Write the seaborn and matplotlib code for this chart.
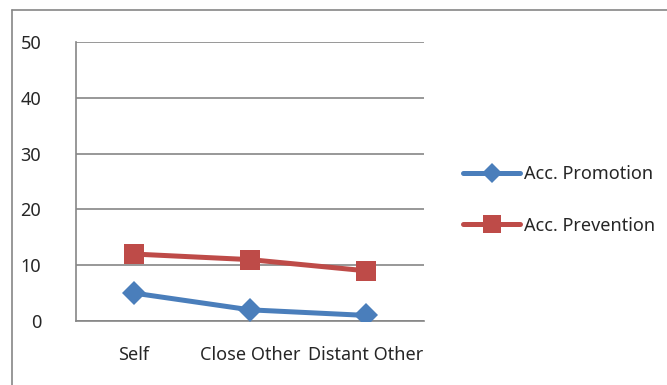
import matplotlib
matplotlib.use("Agg")
import matplotlib.pyplot as plt
from matplotlib.lines import Line2D
import seaborn as sns
import pandas as pd

# Accuracy by target of judgement
targets = ["Self", "Close Other", "Distant Other"]
promotion = [5, 2, 1]
prevention = [12, 11, 9]
series_names = ["Acc. Promotion", "Acc. Prevention"]
y_ticks = [0, 10, 20, 30, 40, 50]

BLUE = "#4A7EBB"
RED = "#BE4B48"
GRID = "#868686"
TEXT = "#262626"
FS = 13

sns.set_theme(style="white")
plt.rcParams["font.family"] = ["Noto Sans", "DejaVu Sans"]

df = pd.DataFrame({
    "pos": list(range(len(targets))) * 2,
    "value": promotion + prevention,
    "series": [series_names[0]] * len(targets) + [series_names[1]] * len(targets),
})

W, H = 667, 385
fig = plt.figure(figsize=(W / 100, H / 100), dpi=100)

# Outer chart frame: only the top and left edges fall inside the image
fig.lines.append(Line2D([12 / W, 1.0], [1 - 10 / H, 1 - 10 / H],
                        transform=fig.transFigure, color=GRID, linewidth=1.2))
fig.lines.append(Line2D([12 / W, 12 / W], [0.0, 1 - 10 / H],
                        transform=fig.transFigure, color=GRID, linewidth=1.2))

ax = fig.add_axes([76 / W, 1 - 321 / H, (424 - 76) / W, (321 - 42) / H])

sns.lineplot(data=df, x="pos", y="value", hue="series", style="series",
             palette={series_names[0]: BLUE, series_names[1]: RED},
             markers={series_names[0]: "D", series_names[1]: "s"},
             dashes=False, linewidth=3.6, ax=ax, legend=False,
             markeredgewidth=0, zorder=3)
for line, ms in zip(ax.lines, [12.5, 14.5]):
    line.set_markersize(ms)
    line.set_solid_capstyle("round")

ax.set_xlim(-0.5, len(targets) - 0.5)
ax.set_ylim(0, 50)
ax.set_yticks(y_ticks)
ax.set_yticklabels([str(v) for v in y_ticks])
ax.set_xticks([i - 0.5 for i in range(len(targets) + 1)])
ax.set_xticklabels([""] * (len(targets) + 1))
ax.set_xticks(range(len(targets)), minor=True)
ax.set_xticklabels(targets, minor=True)
ax.set_xlabel("")
ax.set_ylabel("")

ax.yaxis.grid(True, color=GRID, linewidth=1.2)
ax.set_axisbelow(True)
for side in ["top", "right"]:
    ax.spines[side].set_visible(False)
for side in ["left", "bottom"]:
    ax.spines[side].set_color(GRID)
    ax.spines[side].set_linewidth(1.2)

ax.tick_params(axis="y", which="major", direction="out", length=5,
               width=1.2, color=GRID, pad=20, labelsize=FS, labelcolor=TEXT)
ax.tick_params(axis="x", which="major", direction="out", length=5,
               width=1.2, color=GRID)
ax.tick_params(axis="x", which="minor", length=0, pad=18,
               labelsize=FS, labelcolor=TEXT)

handles = [
    Line2D([], [], color=BLUE, marker="D", markersize=10.5, linewidth=3.6,
           markeredgewidth=0, solid_capstyle="round"),
    Line2D([], [], color=RED, marker="s", markersize=12.5, linewidth=3.6,
           markeredgewidth=0, solid_capstyle="round"),
]
fig.legend(handles, series_names, loc="upper left",
           bbox_to_anchor=(456 / W, 1 - 158 / H), frameon=False,
           handlelength=3.15, handletextpad=0.2, labelspacing=1.85,
           fontsize=FS, labelcolor=TEXT, borderaxespad=0)

fig.savefig("out.png", dpi=100)
